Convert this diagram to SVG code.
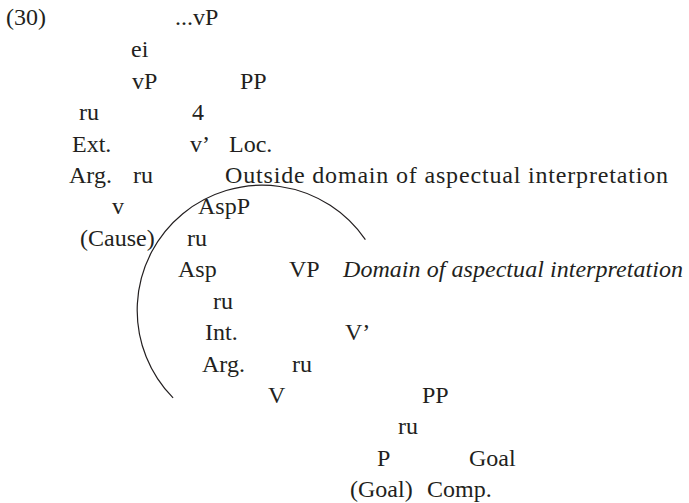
<svg xmlns="http://www.w3.org/2000/svg" width="689" height="503" viewBox="0 0 689 503">
<style>
text{font-family:"Liberation Serif","Times New Roman",serif;font-size:24px;fill:#231f20}
.it{font-style:italic}
.arc{fill:none;stroke:#231f20;stroke-width:1.2}
</style>
<rect width="689" height="503" fill="#ffffff"/>
<text x="6" y="25">(30)</text>
<g id="root"><text x="175" y="25">...vP</text></g>
<g id="branches">
<text x="131" y="57">ei</text>
<text x="79" y="120">ru</text>
<text x="192" y="120">4</text>
<text x="133" y="183">ru</text>
<text x="187" y="245.5">ru</text>
<text x="213" y="308.5">ru</text>
<text x="292" y="371.5">ru</text>
<text x="398" y="434.2">ru</text>
</g>
<g id="vP"><text x="132" y="88.5">vP</text></g>
<g id="PP-loc"><text x="240" y="88.5">PP</text></g>
<g id="ext-arg"><text x="72" y="151.5">Ext.</text><text x="69" y="183">Arg.</text></g>
<g id="v-bar"><text x="190" y="151.5">v’</text></g>
<g id="loc"><text x="229" y="151.5">Loc.</text></g>
<g id="outside-label"><text x="225" y="183" textLength="443" lengthAdjust="spacing">Outside domain of aspectual interpretation</text></g>
<g id="v-cause"><text x="112" y="214">v</text><text x="80" y="245.5">(Cause)</text></g>
<g id="AspP"><text x="198" y="214">AspP</text></g>
<g id="Asp"><text x="178" y="277">Asp</text></g>
<g id="VP"><text x="289" y="277">VP</text></g>
<g id="domain-label"><text class="it" x="343" y="277" textLength="340" lengthAdjust="spacing">Domain of aspectual interpretation</text></g>
<g id="int-arg"><text x="205" y="340">Int.</text><text x="202" y="371.5">Arg.</text></g>
<g id="V-bar"><text x="345" y="340">V’</text></g>
<g id="V"><text x="268" y="402.7">V</text></g>
<g id="PP-goal"><text x="422" y="402.7">PP</text></g>
<g id="P-goal"><text x="377" y="465.7">P</text><text x="350" y="497">(Goal)</text></g>
<g id="goal-comp"><text x="469" y="465.7">Goal</text><text x="427" y="497">Comp.</text></g>
<g id="connectors">
<path class="arc" d="M 365.4 239.7 A 125 125 0 1 0 173.1 397.9"/>
</g>
</svg>
